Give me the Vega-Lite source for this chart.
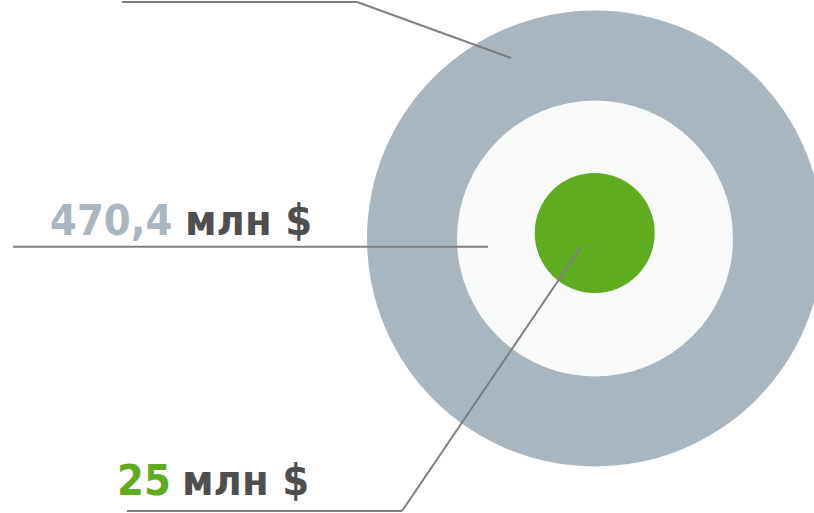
{
  "$schema": "https://vega.github.io/schema/vega-lite/v6.json",
  "width": 814,
  "height": 513,
  "autosize": {"type": "fit", "contains": "padding"},
  "padding": 0,
  "background": "white",
  "config": {"view": {"stroke": null}, "axis": {"disable": true}},
  "datasets": {
    "chart": [{"chart": "market"}],
    "labels": [
      {"level": "middle", "value": "470,4", "unit": "млн $"},
      {"level": "inner", "value": "25", "unit": "млн $"}
    ]
  },
  "data": {"name": "chart"},
  "layer": [
    {
      "mark": {"type": "point", "shape": "circle", "filled": true, "opacity": 1, "color": "#a9b5bf", "size": 207936, "clip": true},
      "encoding": {
        "x": {"datum": 595, "type": "quantitative", "scale": {"domain": [0, 814], "nice": false, "zero": false}, "axis": null},
        "y": {"datum": 238.5, "type": "quantitative", "scale": {"domain": [0, 513], "nice": false, "zero": false, "reverse": true}, "axis": null}
      }
    },
    {
      "mark": {"type": "point", "shape": "circle", "filled": true, "opacity": 1, "color": "#f9fbfa", "size": 76176, "clip": true},
      "encoding": {
        "x": {"datum": 595, "type": "quantitative"},
        "y": {"datum": 238.5, "type": "quantitative"}
      }
    },
    {
      "mark": {"type": "point", "shape": "circle", "filled": true, "opacity": 1, "color": "#60ac20", "size": 14400, "clip": true},
      "encoding": {
        "x": {"datum": 594.7, "type": "quantitative"},
        "y": {"datum": 233, "type": "quantitative"}
      }
    },
    {
      "mark": {"type": "rule", "color": "#7f7f7f", "strokeWidth": 2},
      "encoding": {
        "x": {"datum": 122, "type": "quantitative"}, "y": {"datum": 2, "type": "quantitative"},
        "x2": {"datum": 357}, "y2": {"datum": 2}
      }
    },
    {
      "mark": {"type": "rule", "color": "#7f7f7f", "strokeWidth": 2},
      "encoding": {
        "x": {"datum": 357, "type": "quantitative"}, "y": {"datum": 2, "type": "quantitative"},
        "x2": {"datum": 511}, "y2": {"datum": 58}
      }
    },
    {
      "mark": {"type": "rule", "color": "#7f7f7f", "strokeWidth": 2},
      "encoding": {
        "x": {"datum": 13, "type": "quantitative"}, "y": {"datum": 246.7, "type": "quantitative"},
        "x2": {"datum": 488}, "y2": {"datum": 246.7}
      }
    },
    {
      "mark": {"type": "rule", "color": "#7f7f7f", "strokeWidth": 2},
      "encoding": {
        "x": {"datum": 127, "type": "quantitative"}, "y": {"datum": 511, "type": "quantitative"},
        "x2": {"datum": 402}, "y2": {"datum": 511}
      }
    },
    {
      "mark": {"type": "rule", "color": "#7f7f7f", "strokeWidth": 2},
      "encoding": {
        "x": {"datum": 402, "type": "quantitative"}, "y": {"datum": 511, "type": "quantitative"},
        "x2": {"datum": 581}, "y2": {"datum": 247}
      }
    },
    {
      "data": {"name": "labels"},
      "transform": [{"filter": "datum.level === 'middle'"}],
      "mark": {"type": "text", "align": "left", "baseline": "alphabetic", "font": "DejaVu Sans Condensed", "fontWeight": "bold", "fontSize": 43, "color": "#a9b5bf"},
      "encoding": {
        "text": {"field": "value"},
        "x": {"datum": 50, "type": "quantitative"}, "y": {"datum": 235, "type": "quantitative"}
      }
    },
    {
      "data": {"name": "labels"},
      "transform": [{"filter": "datum.level === 'middle'"}],
      "mark": {"type": "text", "align": "left", "baseline": "alphabetic", "font": "DejaVu Sans Condensed", "fontWeight": "bold", "fontSize": 43, "color": "#4f4f4f"},
      "encoding": {
        "text": {"field": "unit"},
        "x": {"datum": 185, "type": "quantitative"}, "y": {"datum": 235, "type": "quantitative"}
      }
    },
    {
      "data": {"name": "labels"},
      "transform": [{"filter": "datum.level === 'inner'"}],
      "mark": {"type": "text", "align": "left", "baseline": "alphabetic", "font": "DejaVu Sans Condensed", "fontWeight": "bold", "fontSize": 43, "color": "#60ac20"},
      "encoding": {
        "text": {"field": "value"},
        "x": {"datum": 117, "type": "quantitative"}, "y": {"datum": 495, "type": "quantitative"}
      }
    },
    {
      "data": {"name": "labels"},
      "transform": [{"filter": "datum.level === 'inner'"}],
      "mark": {"type": "text", "align": "left", "baseline": "alphabetic", "font": "DejaVu Sans Condensed", "fontWeight": "bold", "fontSize": 43, "color": "#4f4f4f"},
      "encoding": {
        "text": {"field": "unit"},
        "x": {"datum": 182, "type": "quantitative"}, "y": {"datum": 495, "type": "quantitative"}
      }
    }
  ]
}
